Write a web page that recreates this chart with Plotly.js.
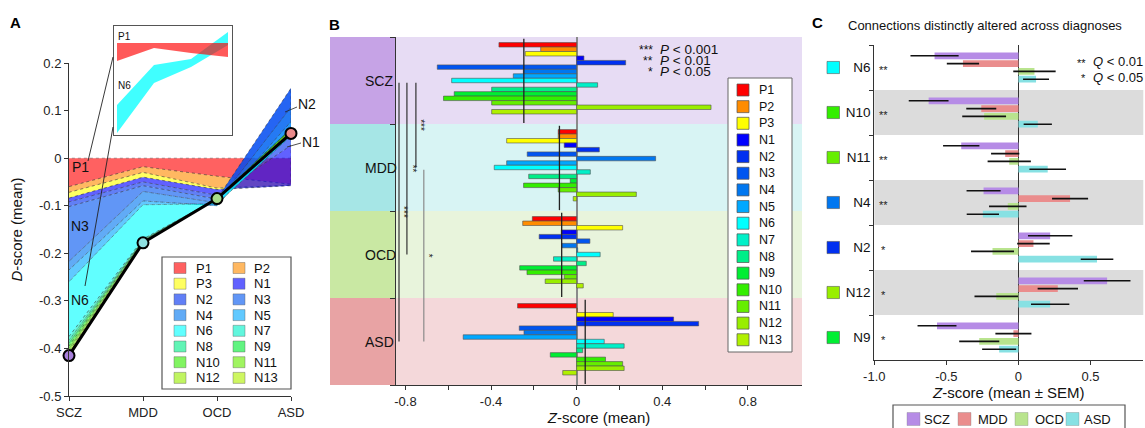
<!DOCTYPE html>
<html><head><meta charset="utf-8">
<script src="https://cdn.plot.ly/plotly-3.0.1.min.js"></script>
<style>html,body{margin:0;padding:0;background:#fff}#chart{width:1145px;height:428px}</style>
</head><body><div id="chart"></div>
<script>
// ================= DATA =================
const diagnoses = ['SCZ', 'MDD', 'OCD', 'ASD'];
const networks = ['P1','P2','P3','N1','N2','N3','N4','N5','N6','N7','N8','N9','N10','N11','N12','N13'];
const networkColors = ['#ff0000','#ff8c00','#ffff00','#0000ff','#0030f0','#0055f0','#0077f0','#00a8ff',
                       '#00ffff','#00f0c8','#00ee88','#00ee33','#33ee00','#66ee00','#99ee00','#b0f000'];
const diagnosisColors = ['#a77fdb', '#8edfe0', '#a8dc8a', '#ea8a8a'];
const diagnosisBoxColors = ['#c6a3e6', '#a6e6e6', '#c9e8a3', '#e8a3a4'];
const diagnosisBandColors = ['#e7dcf4', '#d8f4f4', '#e8f4dc', '#f4d8da'];

// Panel A: contribution of each network to the mean D-score (stacked in order)
const dContribSCZ = [-0.060,-0.012,-0.012,-0.008,-0.010,-0.115,-0.018,-0.025,-0.115,-0.008,-0.006,-0.006,-0.006,-0.005,-0.005,-0.004];
const dContribMDD = [-0.018,-0.012,-0.010,-0.010,-0.008,-0.012,-0.020,-0.008,-0.072,-0.002,-0.001,-0.001,-0.001,-0.001,-0.001,-0.001];
const dContribOCD = [-0.038,-0.025,-0.003,-0.012,-0.008,-0.008,-0.006, 0.004, 0.010, 0.002,-0.001, 0.000,-0.001, 0.001, 0.000, 0.000];
const dContribASD = [-0.055,-0.002,-0.001, 0.085, 0.120,-0.040,-0.030,-0.030, 0.010, 0.005, 0.000,-0.005, 0.002, 0.001,-0.004,-0.004];
const yTicksA = [-0.5,-0.4,-0.3,-0.2,-0.1,0,0.1,0.2];
const yTickTextA = ['-0.5','-0.4','-0.3','-0.2','-0.1','0','0.1','0.2'];

// Panel A inset (magnified view, inset units)
const insetX = [0, 1, 2, 3];
const insetP1Top = [17, 17, 17, 17];
const insetP1Bottom = [35, 22, 27, 31];
const insetN6Top = [79, 39, 33, 6];
const insetN6Bottom = [107, 57, 41, 19];

// Panel B: Z-score (mean) per network per diagnosis
const zScoreSCZ = [-0.363,-0.168,-0.240, 0.034, 0.229,-0.651,-0.249,-0.296,-0.584, 0.098,-0.397,-0.572,-0.622,-0.397, 0.628,-0.397];
const zScoreMDD = [-0.086,-0.086,-0.327,-0.058, 0.106,-0.231, 0.369,-0.327,-0.385, 0.064,-0.224,-0.030,-0.248,-0.086, 0.279,-0.016];
const zScoreOCD = [-0.207,-0.252, 0.215,-0.072,-0.175, 0.062,-0.069, 0.005, 0.110,-0.108, 0.045,-0.266,-0.232,-0.058,-0.147, 0.031];
const zScoreASD = [-0.276, 0.004, 0.171, 0.453, 0.570,-0.268,-0.246,-0.530, 0.129, 0.222, 0.028,-0.123, 0.135, 0.215, 0.222,-0.065];
const xTicksB = [-0.8,-0.6,-0.4,-0.2,0,0.2,0.4,0.6,0.8];
const xTickTextB = ['-0.8','','-0.4','','0','','0.4','','0.8'];
const sigComparisons = [['SCZ','MDD'], ['SCZ','OCD'], ['SCZ','ASD'], ['MDD','ASD']];
const sigLabels = ['***', '**', '***', '*'];
const pLegendStars = ['***', '**', '*'];
const pLegendText = ['<i>P</i> < 0.001', '<i>P</i> < 0.01', '<i>P</i> < 0.05'];

// Panel C: connections distinctly altered across diagnoses
const cConnections = ['N6','N10','N11','N4','N2','N12','N9'];
const cStars = ['**','**','**','**','*','*','*'];
const cSCZ = [-0.582,-0.623,-0.397,-0.242, 0.220, 0.615,-0.565];
const cSCZerr = [0.167, 0.138, 0.126, 0.118, 0.154, 0.162, 0.135];
const cMDD = [-0.385,-0.258,-0.092, 0.358, 0.104, 0.273,-0.035];
const cMDDerr = [0.112, 0.104, 0.098, 0.125, 0.113, 0.140, 0.125];
const cOCD = [ 0.111,-0.238,-0.064,-0.074,-0.180,-0.154,-0.272];
const cOCDerr = [0.147, 0.152, 0.150, 0.130, 0.149, 0.151, 0.139];
const cASD = [ 0.122, 0.134, 0.203,-0.247, 0.545, 0.220,-0.134];
const cASDerr = [0.090, 0.098, 0.127, 0.112, 0.113, 0.133, 0.118];
const cBarColors = ['#b68ce6', '#ea8d8d', '#b9e48e', '#87e1e3'];
const qLegendStars = ['**', '*'];
const qLegendText = ['<i>Q</i> < 0.01', '<i>Q</i> < 0.05'];

// ================= LAYOUT HELPERS =================
const W = 1145, H = 428;
const PX = x => x / W;
const PY = y => 1 - y / H;
const FONT = 'Liberation Sans, Arial, Helvetica, sans-serif';
function hexA(hex, a) {
  const r = parseInt(hex.slice(1,3),16), g = parseInt(hex.slice(3,5),16), b = parseInt(hex.slice(5,7),16);
  return `rgba(${r},${g},${b},${a})`;
}
const AREA_ALPHA = 0.62;

const traces = [];
const shapes = [];
const annotations = [];
function txt(x, y, text, opts) {
  annotations.push(Object.assign({x:PX(x), y:PY(y), text, xref:'paper', yref:'paper', showarrow:false,
    xanchor:'center', yanchor:'middle', font:{size:13, color:'#1a1a1a', family:FONT}}, opts || {}));
}
function line(x0, y0, x1, y1, color, width, extra) {
  shapes.push(Object.assign({type:'line', xref:'paper', yref:'paper', x0:PX(x0), y0:PY(y0), x1:PX(x1), y1:PY(y1),
    line:{color, width}, layer:'above'}, extra || {}));
}
function rect(x0, y0, x1, y1, fill, lineColor, lineWidth, extra) {
  shapes.push(Object.assign({type:'rect', xref:'paper', yref:'paper', x0:PX(x0), y0:PY(y0), x1:PX(x1), y1:PY(y1),
    fillcolor:fill, line:{color:lineColor, width:lineWidth}, layer:'above'}, extra || {}));
}

// ================= PANEL A =================
const contribs = [dContribSCZ, dContribMDD, dContribOCD, dContribASD];
let prevCum = diagnoses.map(() => 0);
networks.forEach((n, i) => {
  const nextCum = prevCum.map((p, d) => p + contribs[d][i]);
  traces.push({
    type:'scatter', mode:'lines', xaxis:'x', yaxis:'y', name:n,
    x: diagnoses.concat(diagnoses.slice().reverse()),
    y: nextCum.concat(prevCum.slice().reverse()),
    fill:'toself', fillcolor: hexA(networkColors[i], AREA_ALPHA),
    line:{color:'rgba(50,50,50,0.55)', width:0.7, dash:'dot'}, hoverinfo:'name'
  });
  prevCum = nextCum;
});
const dTotal = prevCum;
traces.push({
  type:'scatter', mode:'lines+markers', xaxis:'x', yaxis:'y', name:'D-score',
  x: diagnoses, y: dTotal, cliponaxis:false,
  line:{color:'#000', width:3},
  marker:{size:11, color:diagnosisColors, line:{color:'#000', width:2}}
});
// inset
traces.push({type:'scatter', mode:'lines', xaxis:'x2', yaxis:'y2', name:'N6 (inset)',
  x: insetX.concat(insetX.slice().reverse()), y: insetN6Top.concat(insetN6Bottom.slice().reverse()),
  fill:'toself', fillcolor: hexA(networkColors[8], 0.75), line:{width:0}, hoverinfo:'name'});
traces.push({type:'scatter', mode:'lines', xaxis:'x2', yaxis:'y2', name:'P1 (inset)',
  x: insetX.concat(insetX.slice().reverse()), y: insetP1Top.concat(insetP1Bottom.slice().reverse()),
  fill:'toself', fillcolor: hexA(networkColors[0], 0.65), line:{width:0}, hoverinfo:'name'});

// Panel A annotations
txt(15.5, 23, '<b>A</b>', {font:{size:15, color:'#000', family:FONT}});
txt(80, 167, 'P1', {font:{size:14, color:'#111', family:FONT}});
txt(80, 226, 'N3', {font:{size:14, color:'#111', family:FONT}});
txt(80, 300, 'N6', {font:{size:14, color:'#111', family:FONT}});
txt(306.5, 104, 'N2', {font:{size:14, color:'#111', family:FONT}});
txt(311, 142, 'N1', {font:{size:14, color:'#111', family:FONT}});
txt(124, 36, 'P1', {font:{size:10, color:'#111', family:FONT}});
txt(124, 86, 'N6', {font:{size:10, color:'#111', family:FONT}});
line(285, 112, 297, 107, '#222', 0.8);
line(287, 147, 301, 143, '#222', 0.8);
line(113, 57, 88, 161, '#222', 0.9);
line(113, 127, 85, 286, '#222', 0.9);
// Panel A legend (2 columns)
rect(162, 257, 291, 389, '#ffffff', '#555', 1.2);
networks.forEach((n, i) => {
  const row = Math.floor(i / 2), col = i % 2;
  const yc = 268 + row * 15.7;
  const sx = [174, 233][col];
  rect(sx, yc - 5.5, sx + 12, yc + 5.5, hexA(networkColors[i], AREA_ALPHA), 'rgba(90,90,90,0.5)', 0.8);
  txt([194, 252][col], yc, n, {xanchor:'left', font:{size:13, color:'#111', family:FONT}});
});

// ================= PANEL B =================
const zAll = [zScoreSCZ, zScoreMDD, zScoreOCD, zScoreASD];
const GROUP = 19.5, FIRST = 1.75;
const bY = [], bX = [], bC = [], bT = [];
zAll.forEach((arr, g) => arr.forEach((v, i) => {
  bY.push(g * GROUP + FIRST + i); bX.push(v); bC.push(networkColors[i]); bT.push(diagnoses[g] + ' ' + networks[i]);
}));
traces.push({type:'bar', orientation:'h', xaxis:'x3', yaxis:'y3', name:'Z-score',
  x: bX, y: bY, width: 1.0, text: bT, textposition:'none', hoverinfo:'text+x',
  marker:{color: bC, line:{color:'rgba(80,80,80,0.6)', width:1}}});

diagnoses.forEach((d, g) => {
  const y0 = g * GROUP, y1 = (g + 1) * GROUP;
  shapes.push({type:'rect', xref:'x3 domain', yref:'y3', x0:0, x1:1, y0, y1,
    fillcolor: diagnosisBandColors[g], line:{width:0}, layer:'below'});
  shapes.push({type:'rect', xref:'paper', yref:'y3', x0:PX(330), x1:PX(396), y0, y1,
    fillcolor: diagnosisBoxColors[g], line:{width:0}, layer:'below'});
  const mean = zAll[g].reduce((a, b) => a + b, 0) / zAll[g].length;
  shapes.push({type:'line', xref:'x3', yref:'y3', x0:mean, x1:mean, y0:y0 + 0.4, y1:y1 - 0.2,
    line:{color:'#222', width:1.3}, layer:'above'});
  annotations.push({xref:'paper', yref:'y3', x:PX(363), y:(y0 + y1) / 2, text:d, showarrow:false,
    font:{size:14, color:'#111', family:FONT}});
});
// significance brackets
const sigX = [-0.751, -0.793, -0.830, -0.714];
const sigColor = ['#333', '#333', '#333', '#8a8a8a'];
sigComparisons.forEach((pair, k) => {
  const ga = diagnoses.indexOf(pair[0]), gb = diagnoses.indexOf(pair[1]);
  const ya = ga * GROUP + GROUP / 2 + 0.5, yb = gb * GROUP + GROUP / 2;
  shapes.push({type:'line', xref:'x3', yref:'y3', x0:sigX[k], x1:sigX[k], y0:ya, y1:yb,
    line:{color:sigColor[k], width:1.2}, layer:'above'});
  annotations.push({xref:'x3', yref:'y3', x:sigX[k], y:(ya + yb) / 2, text:sigLabels[k], showarrow:false,
    textangle:90, xshift:5, font:{size:10, color:'#222', family:FONT}});
});
// P legend
pLegendStars.forEach((s, k) => {
  const y = 49 + k * 11;
  txt(655, y + 1, s, {xanchor:'right', font:{size:12, color:'#111', family:FONT}});
  txt(658, y, pLegendText[k], {xanchor:'left', font:{size:13.5, color:'#111', family:FONT}});
});
// Panel B legend
rect(728, 78, 792, 352, '#ffffff', '#666', 1);
networks.forEach((n, i) => {
  const yc = 90 + i * 16.65;
  rect(737, yc - 6, 749, yc + 6, networkColors[i], 'rgba(80,80,80,0.7)', 1);
  txt(757, yc, n, {xanchor:'left', font:{size:12.5, color:'#111', family:FONT}});
});
txt(334, 24, '<b>B</b>', {font:{size:15, color:'#000', family:FONT}});

// ================= PANEL C =================
const cSeries = [cSCZ, cMDD, cOCD, cASD];
const cErrors = [cSCZerr, cMDDerr, cOCDerr, cASDerr];
diagnoses.forEach((d, g) => {
  traces.push({type:'bar', orientation:'h', xaxis:'x4', yaxis:'y4', name:d,
    x: cSeries[g], y: cConnections,
    marker:{color: cBarColors[g], line:{width:0}},
    error_x:{type:'data', array:cErrors[g], visible:true, color:'#111', thickness:1.6, width:0}});
});
cConnections.forEach((c, k) => {
  if (k % 2 === 1) {
    shapes.push({type:'rect', xref:'x4 domain', yref:'y4', x0:0, x1:1, y0:k - 0.5, y1:k + 0.5,
      fillcolor:'#dcdcdc', line:{width:0}, layer:'below'});
  }
  const ci = networks.indexOf(c);
  shapes.push({type:'rect', xref:'paper', yref:'y4', x0:PX(827), x1:PX(839.5), y0:k - 0.135, y1:k + 0.135,
    fillcolor: networkColors[ci], line:{color:'rgba(90,90,90,0.6)', width:1}, layer:'above'});
  annotations.push({xref:'x4', yref:'y4', x:-0.935, y:k, yshift:-2, text:cStars[k], showarrow:false,
    font:{size:11, color:'#222', family:FONT}});
});
qLegendStars.forEach((s, k) => {
  const y = 62 + k * 15;
  txt(1088, y + 1, s, {xanchor:'right', font:{size:11, color:'#111', family:FONT}});
  txt(1091, y, qLegendText[k], {xanchor:'left', font:{size:13, color:'#111', family:FONT}});
});
txt(817, 23, '<b>C</b>', {font:{size:15, color:'#000', family:FONT}});
txt(984.5, 25, 'Connections distinctly altered across diagnoses', {font:{size:13, color:'#111', family:FONT}});
// Panel C legend
rect(893, 405, 1125, 450, '#ffffff', '#555', 1.2);
const cLegSq = [907, 958, 1015, 1066], cLegTx = [922, 975.5, 1033, 1081.5];
diagnoses.forEach((d, g) => {
  rect(cLegSq[g], 412.5, cLegSq[g] + 13, 425.5, cBarColors[g], 'rgba(120,120,120,0.4)', 0.8);
  txt(cLegTx[g], 419, d, {xanchor:'left', font:{size:13, color:'#111', family:FONT}});
});

// ================= AXES =================
const baseAx = {showgrid:false, zeroline:false, showline:true, linecolor:'#333', linewidth:1,
  ticks:'outside', ticklen:4, tickcolor:'#333', tickfont:{size:13, color:'#222', family:FONT}};
const layout = {
  width:W, height:H, autosize:false, margin:{l:0, r:0, t:0, b:0},
  paper_bgcolor:'#ffffff', plot_bgcolor:'rgba(0,0,0,0)',
  font:{family:FONT, size:13, color:'#222'},
  showlegend:false, barmode:'group', bargap:0.308, bargroupgap:0.145,
  xaxis: Object.assign({}, baseAx, {domain:[PX(69), PX(291)], type:'category', categoryorder:'array',
    categoryarray:diagnoses, range:[0, 3], anchor:'y'}),
  yaxis: Object.assign({}, baseAx, {domain:[PY(396), PY(63)], range:[-0.5, 0.2], tickvals:yTicksA,
    ticktext:yTickTextA, anchor:'x',
    title:{text:'<i>D</i>-score (mean)', font:{size:15, color:'#111', family:FONT}, standoff:12}}),
  xaxis2: {domain:[PX(114), PX(232)], range:[-0.081, 3.108], showline:true, mirror:true, linecolor:'#555',
    linewidth:1.2, showticklabels:false, ticks:'', showgrid:false, zeroline:false, anchor:'y2', fixedrange:true},
  yaxis2: {domain:[PY(135), PY(26)], range:[109, 0], showline:true, mirror:true, linecolor:'#555',
    linewidth:1.2, showticklabels:false, ticks:'', showgrid:false, zeroline:false, anchor:'x2', fixedrange:true},
  xaxis3: Object.assign({}, baseAx, {domain:[PX(396), PX(802)], range:[-0.844, 1.053], tickvals:xTicksB,
    ticktext:xTickTextB, anchor:'y3', zeroline:true, zerolinecolor:'#8a8a8a', zerolinewidth:1.6,
    title:{text:'<i>Z</i>-score (mean)', font:{size:15, color:'#111', family:FONT}, standoff:4}}),
  yaxis3: Object.assign({}, baseAx, {domain:[PY(385), PY(37)], range:[4 * GROUP, 0],
    tickvals:diagnoses.map((d, g) => g * GROUP).concat([4 * GROUP]), showticklabels:false,
    ticklen:5, anchor:'x3'}),
  xaxis4: Object.assign({}, baseAx, {domain:[PX(874.3), PX(1143.3)], range:[-1.0, 0.866],
    tickvals:[-1, -0.5, 0, 0.5], ticktext:['-1.0', '-0.5', '0', '0.5'], anchor:'y4',
    zeroline:true, zerolinecolor:'#333', zerolinewidth:1.2,
    title:{text:'<i>Z</i>-score (mean ± SEM)', font:{size:15, color:'#111', family:FONT}, standoff:3}}),
  yaxis4: Object.assign({}, baseAx, {domain:[PY(360), PY(45)], type:'category', categoryorder:'array',
    categoryarray:cConnections, range:[cConnections.length - 0.5, -0.5], tickson:'boundaries',
    tickfont:{size:13.5, color:'#111', family:FONT}, anchor:'x4'}),
  shapes, annotations
};

Plotly.newPlot('chart', traces, layout, {displayModeBar:false, staticPlot:false});
</script></body></html>
